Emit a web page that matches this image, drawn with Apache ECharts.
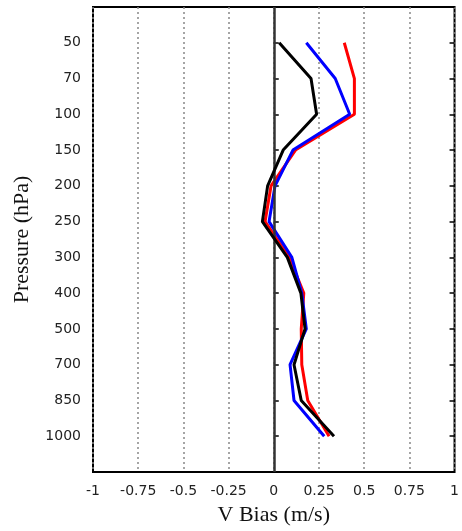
<!DOCTYPE html>
<html>
<head>
<meta charset="utf-8">
<script src="https://cdn.jsdelivr.net/npm/echarts@6/dist/echarts.min.js"></script>
<style>html,body{margin:0;padding:0;background:#fff;}#c{width:462px;height:531px;}</style>
</head>
<body>
<div id="c"></div>
<script>
var levels = ['50','70','100','150','200','250','300','400','500','700','850','1000'];
var redBias   = [0.39, 0.446, 0.446, 0.12, -0.015, -0.048, 0.085, 0.166, 0.152, 0.155, 0.188, 0.306];
var blueBias  = [0.18, 0.34, 0.42, 0.106, 0.007, -0.026, 0.10, 0.155, 0.18, 0.09, 0.112, 0.279];
var blackBias = [0.03, 0.206, 0.237, 0.052, -0.034, -0.063, 0.075, 0.15, 0.173, 0.112, 0.152, 0.333];
var xTicks = [-1, -0.75, -0.5, -0.25, 0, 0.25, 0.5, 0.75, 1];

var cats = [''].concat(levels).concat(['']);
function pairs(arr){ return arr.map(function(v,i){ return [v, levels[i]]; }); }

var chart = echarts.init(document.getElementById('c'));
var tickFont = {fontFamily:'DejaVu Sans, sans-serif', fontSize:14, color:'#222'};
var titleFont = {fontFamily:'Liberation Serif, Times New Roman, serif', fontSize:22, color:'#111'};
chart.setOption({
  animation:false,
  grid:{left:93, right:3, top:7, bottom:56, show:true, borderColor:'#000', borderWidth:2, backgroundColor:'transparent'},
  xAxis:{
    type:'value', min:-1, max:1, interval:0.25,
    axisLine:{show:false},
    axisTick:{show:false},
    axisLabel:Object.assign({margin:12, formatter:function(v){ var t = xTicks.filter(function(x){return Math.abs(x-v)<1e-9;}); return t.length? String(t[0]) : ''; }}, tickFont),
    splitLine:{show:true, lineStyle:{color:'#888', type:[2,3], width:1.5}},
    name:'V Bias (m/s)', nameLocation:'middle', nameGap:32,
    nameTextStyle:titleFont
  },
  yAxis:[{
    type:'category', data:cats, boundaryGap:false, inverse:true,
    axisLine:{show:false},
    axisTick:{show:true, inside:true, length:5, lineStyle:{color:'#000', width:1.5}},
    axisLabel:Object.assign({margin:12}, tickFont),
    splitLine:{show:false},
    name:'Pressure (hPa)', nameLocation:'middle', nameGap:60, nameRotate:90,
    nameTextStyle:titleFont
  },{
    type:'category', data:cats, boundaryGap:false, inverse:true, position:'right',
    axisLine:{show:false},
    axisTick:{show:true, inside:true, length:5, lineStyle:{color:'#000', width:1.5}},
    axisLabel:{show:false}, splitLine:{show:false}
  }],
  series:[
    {type:'line', data:pairs(redBias), showSymbol:false, symbol:'none', lineStyle:{color:'#ff0000', width:3}, z:3,
     markLine:{silent:true, symbol:'none', label:{show:false}, lineStyle:{color:'#333', type:'solid', width:2.5}, data:[{xAxis:0}]}},
    {type:'line', data:pairs(blueBias), showSymbol:false, symbol:'none', lineStyle:{color:'#0000ff', width:3}, z:4},
    {type:'line', data:pairs(blackBias), showSymbol:false, symbol:'none', lineStyle:{color:'#000000', width:3}, z:5}
  ]
});
</script>
</body>
</html>
